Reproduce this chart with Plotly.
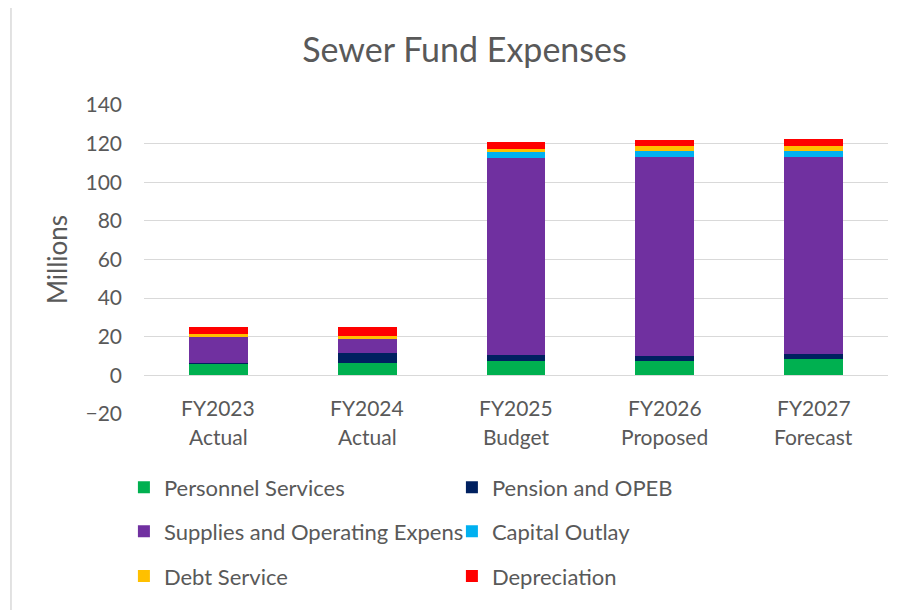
import plotly.graph_objects as go

years = ["FY2023", "FY2024", "FY2025", "FY2026", "FY2027"]
phases = ["Actual", "Actual", "Budget", "Proposed", "Forecast"]

personnel = [5.9, 6.4, 7.4, 7.4, 8.3]
pension = [0.5, 5.2, 3.1, 2.8, 2.9]
supplies = [13.9, 7.4, 101.9, 102.8, 102.0]
capital = [0.0, 0.0, 3.1, 3.1, 3.1]
debt = [0.9, 1.2, 1.9, 2.6, 2.6]
depreciation = [4.0, 4.8, 3.3, 3.3, 3.3]

series_names = ["Personnel Services", "Pension and OPEB", "Supplies and Operating Expens",
                "Capital Outlay", "Debt Service", "Depreciation"]
series_vals = [personnel, pension, supplies, capital, debt, depreciation]
colors = ["#00B050", "#002060", "#7030A0", "#00B0F0", "#FFC000", "#FF0000"]
legend_ids = ["legend", "legend", "legend2", "legend2", "legend3", "legend3"]

y_ticks = [-20, 0, 20, 40, 60, 80, 100, 120, 140]

FONT = "Lato"
TXT = "#595959"

fig = go.Figure()
for name, vals, col, lg in zip(series_names, series_vals, colors, legend_ids):
    fig.add_trace(go.Bar(x=years, y=vals, name=name, marker=dict(color=col, line=dict(width=0)),
                         legend=lg))

for yr, ph in zip(years, phases):
    fig.add_annotation(x=yr, y=0, xref="x", yref="y", text=yr, showarrow=False,
                       yanchor="middle", yshift=-32, font=dict(family=FONT, size=21, color=TXT))
    fig.add_annotation(x=yr, y=0, xref="x", yref="y", text=ph, showarrow=False,
                       yanchor="middle", yshift=-61, font=dict(family=FONT, size=21, color=TXT))

# chart border
fig.add_shape(type="rect", xref="paper", yref="paper", x0=-0.1788, x1=1.0363, y0=-0.7, y1=1.3199,
              line=dict(color="#d9d9d9", width=1.5), layer="below")

leg_common = dict(orientation="h", xanchor="left", x=-0.027, yanchor="middle", entrywidth=283,
                  traceorder="normal",
                  font=dict(family=FONT, size=22, color=TXT), bgcolor="rgba(0,0,0,0)")

fig.update_layout(
    width=913, height=602,
    margin=dict(l=136, r=33, t=97, b=195.5),
    plot_bgcolor="white", paper_bgcolor="white",
    barmode="stack", bargap=0.604,
    title=dict(text="Sewer Fund Expenses", x=0.5, xanchor="center", y=0.930, yanchor="middle",
               font=dict(family=FONT, size=34, color=TXT)),
    xaxis=dict(showticklabels=False, showgrid=False, zeroline=False, showline=False, ticks=""),
    yaxis=dict(range=[-20, 140], tickvals=y_ticks, showgrid=True, gridcolor="#d9d9d9", gridwidth=1.3,
               zeroline=False, showline=False, ticks="", ticklabelstandoff=21,
               tickfont=dict(family=FONT, size=21, color=TXT),
               title=dict(text="Millions", standoff=10, font=dict(family=FONT, size=26, color=TXT))),
    legend=dict(leg_common, y=-0.2375),
    legend2=dict(leg_common, y=-0.380),
    legend3=dict(leg_common, y=-0.525),
)

fig.write_html("out.html")
